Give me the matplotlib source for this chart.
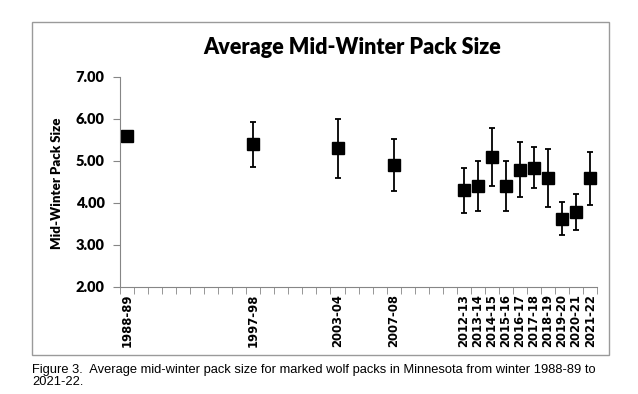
import matplotlib
matplotlib.use("Agg")
import matplotlib.pyplot as plt
from matplotlib.patches import Rectangle
from matplotlib.ticker import FormatStrFormatter

# winter seasons 1988-89 .. 2021-22 on a category axis, one slot per winter
first_year = 1988
last_year = 2021
surveyed = ["1988-89", "1997-98", "2003-04", "2007-08", "2012-13", "2013-14",
            "2014-15", "2015-16", "2016-17", "2017-18", "2018-19", "2019-20",
            "2020-21", "2021-22"]
pack_size = [5.60, 5.40, 5.30, 4.90, 4.30, 4.40, 5.10, 4.40, 4.78, 4.83,
             4.60, 3.63, 3.79, 4.60]
upper = [5.60, 5.94, 6.00, 5.52, 4.83, 5.00, 5.79, 5.00, 5.45, 5.33,
         5.28, 4.02, 4.21, 5.22]
lower = [5.60, 4.86, 4.60, 4.29, 3.76, 3.80, 4.40, 3.82, 4.14, 4.36,
         3.90, 3.23, 3.36, 3.95]

seasons = [f"{y}-{(y + 1) % 100:02d}" for y in range(first_year, last_year + 1)]
xpos = [seasons.index(s) for s in surveyed]
err_lo = [v - lo for v, lo in zip(pack_size, lower)]
err_hi = [hi - v for v, hi in zip(pack_size, upper)]

fig = plt.figure(figsize=(6.38, 3.94), dpi=100)
ax = fig.add_axes([0.188, 0.2716, 0.748, 0.533])

ax.errorbar(xpos, pack_size, yerr=[err_lo, err_hi], fmt="s", color="black",
            markersize=8.2, elinewidth=1.3, capsize=2.4, capthick=1.3)

ax.set_xlim(-0.5, len(seasons) - 0.5)
ax.set_ylim(2, 7)
ax.set_yticks(range(2, 8))
ax.yaxis.set_major_formatter(FormatStrFormatter("%.2f"))

labels = [s if s in surveyed else "" for s in seasons]
ax.set_xticks(range(len(seasons)))
ax.set_xticklabels(labels, rotation=90, fontsize=8.4, fontweight="bold",
                   family="DejaVu Sans")
ax.set_xticks([i - 0.5 for i in range(len(seasons) + 1)], minor=True)
ax.tick_params(axis="x", which="major", length=0, pad=5)
ax.tick_params(axis="x", which="minor", length=5, color="#868686")
ax.tick_params(axis="y", length=5, color="#868686", pad=6)
for lab in ax.get_yticklabels():
    lab.set_fontsize(10.5)
    lab.set_fontweight("heavy")
    lab.set_family("Lato")

for side in ["top", "right"]:
    ax.spines[side].set_visible(False)
for side in ["left", "bottom"]:
    ax.spines[side].set_color("#868686")

fig.text(0.09, 0.535, "Mid-Winter Pack Size", rotation=90, ha="center",
         va="center", fontsize=9.5, fontweight="heavy", family="Lato")
fig.text(0.552, 0.88, "Average Mid-Winter Pack Size", ha="center",
         va="center", fontsize=15.5, fontweight="heavy", family="Lato")

# outer chart border
fig.patches.append(Rectangle((0.05, 0.099), 0.9045, 0.845, fill=False,
                             edgecolor="#9a9a9a", linewidth=1.0,
                             transform=fig.transFigure))

fig.text(0.05, 0.045,
         "Figure 3.  Average mid-winter pack size for marked wolf packs in "
         "Minnesota from winter 1988-89 to\n2021-22.",
         ha="left", va="center", fontsize=9.3, family="Liberation Sans",
         linespacing=1.05)

fig.savefig("out.png", dpi=100)
